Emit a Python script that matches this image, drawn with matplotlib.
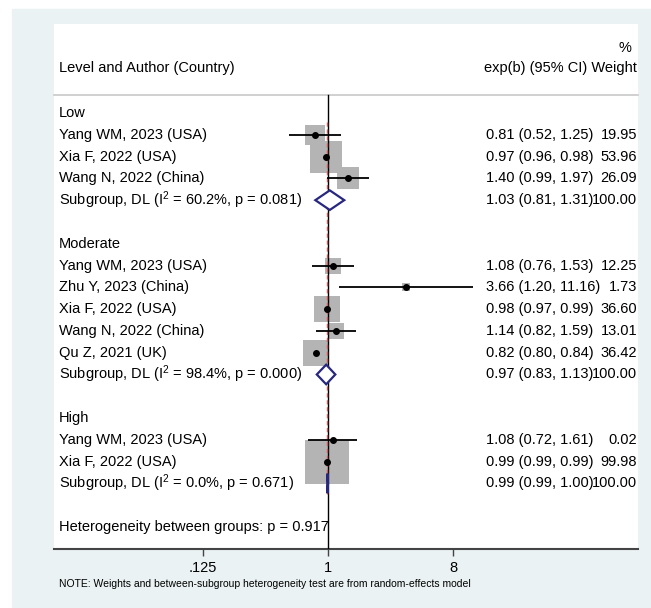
import numpy as np
import matplotlib
matplotlib.use("Agg")
import matplotlib.pyplot as plt
from matplotlib.patches import Rectangle, Polygon

plt.rcParams["font.family"] = ["Liberation Sans", "DejaVu Sans"]
plt.rcParams["mathtext.fontset"] = "custom"
plt.rcParams["mathtext.rm"] = "Liberation Sans"
plt.rcParams["mathtext.it"] = "Liberation Sans:italic"
plt.rcParams["mathtext.default"] = "regular"

# ── data ────────────────────────────────────────────────────────────────────
group_names = ["Low", "Moderate", "High"]

study_group = [0, 0, 0, 1, 1, 1, 1, 1, 2, 2]
study_labels = ["Yang WM, 2023 (USA)", "Xia F, 2022 (USA)", "Wang N, 2022 (China)",
                "Yang WM, 2023 (USA)", "Zhu Y, 2023 (China)", "Xia F, 2022 (USA)",
                "Wang N, 2022 (China)", "Qu Z, 2021 (UK)",
                "Yang WM, 2023 (USA)", "Xia F, 2022 (USA)"]
study_est = [0.81, 0.97, 1.40, 1.08, 3.66, 0.98, 1.14, 0.82, 1.08, 0.99]
study_lo = [0.52, 0.96, 0.99, 0.76, 1.20, 0.97, 0.82, 0.80, 0.72, 0.99]
study_hi = [1.25, 0.98, 1.97, 1.53, 11.16, 0.99, 1.59, 0.84, 1.61, 0.99]
study_weight = [19.95, 53.96, 26.09, 12.25, 1.73, 36.60, 13.01, 36.42, 0.02, 99.98]

sub_i2 = ["60.2%", "98.4%", "0.0%"]
sub_p = ["0.081", "0.000", "0.671"]
sub_est = [1.03, 0.97, 0.99]
sub_lo = [0.81, 0.83, 0.99]
sub_hi = [1.31, 1.13, 1.00]
sub_weight = [100.00, 100.00, 100.00]

overall_est = 0.98
between_p = "0.917"
tick_vals = [0.125, 1, 8]
tick_labels = [".125", "1", "8"]

# ── layout (pixels of the 651x608 canvas) ───────────────────────────────────
W, H = 651, 608
X0, X1, Y0, Y1 = 54, 638, 24, 549       # white plot region
ZERO_PX, PX_PER_LOG2 = 328, 41.67
ROW0_PX, ROW_PX = 113, 21.79
FS = 10.5
NAVY = "#27277f"

fig = plt.figure(figsize=(W / 100, H / 100), dpi=100)
fig.patches.append(Rectangle((12 / W, 0), 1 - 12 / W, (H - 9) / H,
                             transform=fig.transFigure, color="#eaf2f3", zorder=-10))
ax = fig.add_axes([X0 / W, (H - Y1) / H, (X1 - X0) / W, (Y1 - Y0) / H])
ax.set_zorder(5)
ax.set_facecolor("white")
ax.set_xlim((X0 - ZERO_PX) / PX_PER_LOG2, (X1 - ZERO_PX) / PX_PER_LOG2)
ax.set_ylim((Y1 - ROW0_PX) / ROW_PX, (Y0 - ROW0_PX) / ROW_PX)
tr = ax.get_yaxis_transform()

x_lab = (59 - X0) / (X1 - X0)
x_ci = (486 - X0) / (X1 - X0)
x_wt = (637 - X0) / (X1 - X0)
head_row = (95 - ROW0_PX) / ROW_PX

# header
ax.text(x_lab, (68 - ROW0_PX) / ROW_PX, "Level and Author (Country)", transform=tr,
        fontsize=FS, va="center", ha="left")
ax.text(x_wt, (68 - ROW0_PX) / ROW_PX, "exp(b) (95% CI) Weight", transform=tr,
        fontsize=FS, va="center", ha="right")
ax.text((631 - X0) / (X1 - X0), (48 - ROW0_PX) / ROW_PX, "%", transform=tr,
        fontsize=FS, va="center", ha="right")
ax.plot([0, 1], [head_row, head_row], transform=tr, color="#c8c8c8", lw=1.2,
        clip_on=False)

# null line
ax.plot([0, 0], [head_row, ax.get_ylim()[0]], color="black", lw=1.0, zorder=3)

row = 0
last_sub_row = 0
for g, gname in enumerate(group_names):
    ax.text(x_lab, row, gname, transform=tr, fontsize=FS, va="center")
    row += 1
    for i in [k for k, sg in enumerate(study_group) if sg == g]:
        e, lo, hi, w = study_est[i], study_lo[i], study_hi[i], study_weight[i]
        side = 4.2 * np.sqrt(w) + 1.5
        if w > 0.5:
            ax.scatter([np.log2(e)], [row], marker="s", s=(side * 0.72) ** 2,
                       color="#b4b4b4", linewidths=0, zorder=2)
        ax.plot([np.log2(lo), np.log2(hi)], [row, row], color="black", lw=1.3,
                zorder=5, solid_capstyle="butt")
        ax.plot([np.log2(e)], [row], "o", color="black", ms=4, zorder=6)
        ax.text(x_lab, row, study_labels[i], transform=tr, fontsize=FS, va="center")
        ax.text(x_ci, row, f"{e:.2f} ({lo:.2f}, {hi:.2f})", transform=tr,
                fontsize=FS, va="center")
        ax.text(x_wt, row, f"{w:.2f}", transform=tr, fontsize=FS, va="center",
                ha="right")
        row += 1
    e, lo, hi = sub_est[g], sub_lo[g], sub_hi[g]
    dh = 0.45
    ax.add_patch(Polygon([(np.log2(lo), row), (np.log2(e), row - dh),
                          (np.log2(hi), row), (np.log2(e), row + dh)],
                         closed=True, facecolor="white", edgecolor=NAVY, lw=1.6,
                         zorder=6))
    ax.text(x_lab, row,
            f"Subgroup, DL (I$^2$ = {sub_i2[g]}, p = {sub_p[g]})",
            transform=tr, fontsize=FS, va="center")
    ax.text(x_ci, row, f"{e:.2f} ({lo:.2f}, {hi:.2f})", transform=tr,
            fontsize=FS, va="center")
    ax.text(x_wt, row, f"{sub_weight[g]:.2f}", transform=tr, fontsize=FS,
            va="center", ha="right")
    last_sub_row = row
    row += 2

ax.text(x_lab, row, f"Heterogeneity between groups: p = {between_p}",
        transform=tr, fontsize=FS, va="center")

# overall effect line
ax.plot([np.log2(overall_est)] * 2, [0.4, last_sub_row + 0.5], color="#c85a5a",
        lw=1.0, ls=(0, (3, 2)), zorder=4)

# axis
for s in ["left", "right", "top"]:
    ax.spines[s].set_visible(False)
ax.spines["bottom"].set_color("#444444")
ax.spines["bottom"].set_linewidth(1.5)
ax.set_yticks([])
ax.set_xticks(np.log2(tick_vals))
ax.set_xticklabels(tick_labels, fontsize=FS)
ax.tick_params(axis="x", length=5, width=1, color="#444444", pad=4)

fig.text(59 / W, 1 - 584 / H,
         "NOTE: Weights and between-subgroup heterogeneity test are from random-effects model",
         fontsize=7.5, va="center", ha="left")

fig.savefig("out.png", dpi=100)
